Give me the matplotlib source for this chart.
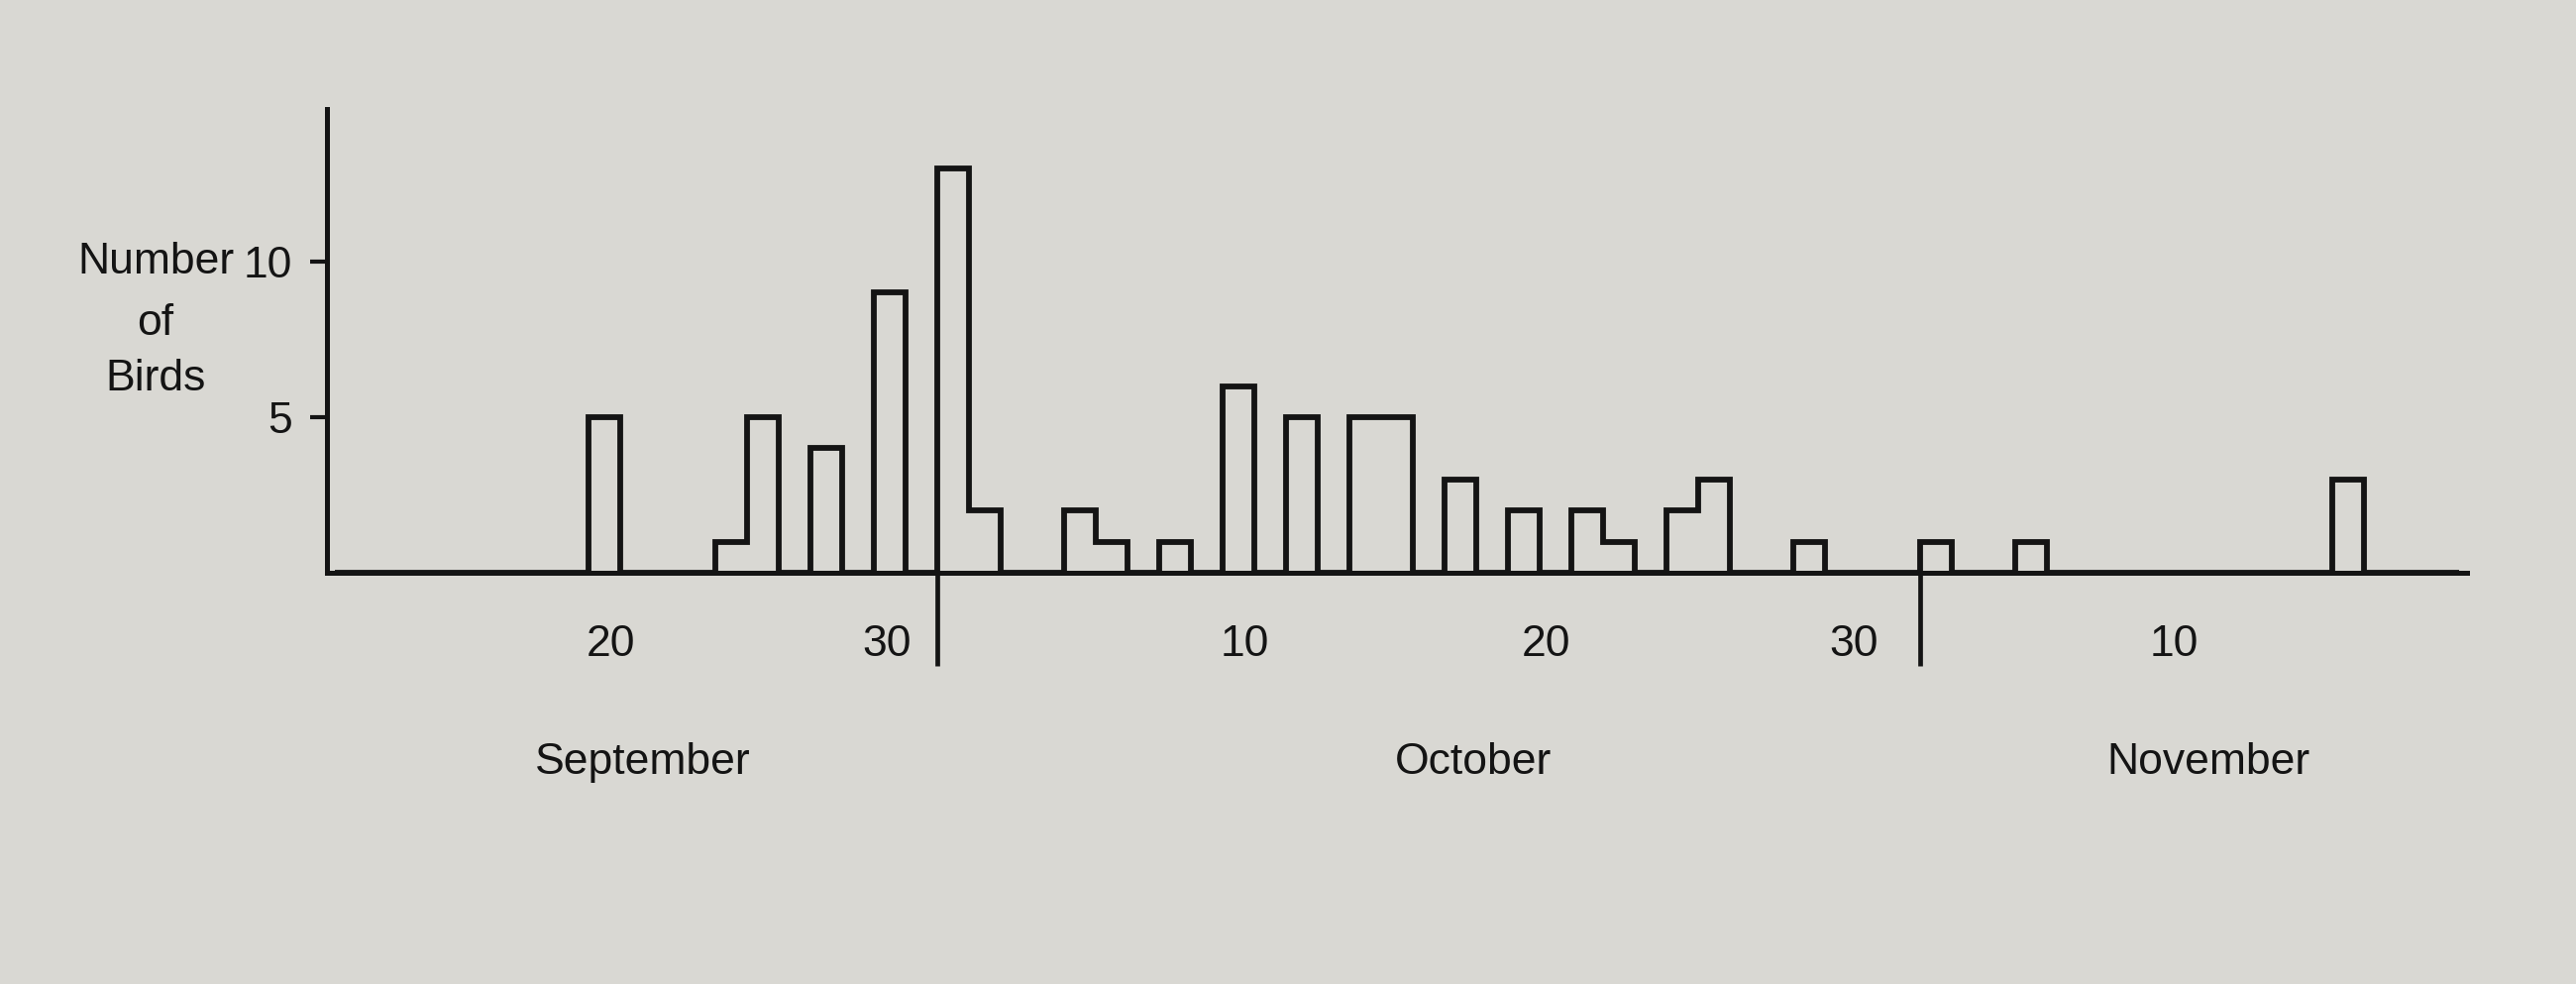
import numpy as np
import matplotlib
matplotlib.use("Agg")
import matplotlib.pyplot as plt

# birds counted per day (day of month, count)
sep_days = [20, 24, 25, 27, 29]
sep_birds = [5, 1, 5, 4, 9]
oct_days = [1, 2, 5, 6, 8, 10, 12, 14, 15, 17, 19, 21, 22, 24, 25, 28]
oct_birds = [13, 2, 2, 1, 1, 6, 5, 5, 5, 3, 2, 2, 1, 2, 3, 1]
nov_days = [1, 4, 14]
nov_birds = [1, 1, 3]

months = ["September", "October", "November"]
month_start = [1, 31, 62]  # day index of the 1st of each month (Sept 1 = 1)

day_labels = ["20", "30", "10", "20", "30", "10"]
day_label_pos = [20.2, 28.9, 40.2, 49.7, 59.4, 69.5]
month_label_pos = [21.2, 47.4, 70.6]

y_ticks = [5, 10]

# daily series over the season
first_day, last_day = 12, 78
days = np.arange(first_day, last_day + 1)
counts = np.zeros(len(days))
for start, dd, bb in zip(month_start, [sep_days, oct_days, nov_days], [sep_birds, oct_birds, nov_birds]):
    for d, b in zip(dd, bb):
        counts[start - 1 + d - first_day] = b
edges = np.arange(first_day - 0.5, last_day + 1.5)

paper = "#d9d8d3"
ink = "#141414"
plt.rcParams['font.family'] = ['Liberation Sans', 'DejaVu Sans']

fig = plt.figure(figsize=(26, 9.93), dpi=100, facecolor=paper)
W, H = 2600, 993
ax = fig.add_axes([330 / W, 1 - 578 / H, (2490 - 330) / W, (578 - 110) / H])
ax.set_facecolor(paper)

ax.stairs(counts, edges, baseline=0, fill=False, color=ink, linewidth=4.2, joinstyle='miter')

# month boundaries run below the axis
for s in month_start[1:]:
    ax.plot([s - 0.5, s - 0.5], [0, -3.0], color=ink, linewidth=3.4, clip_on=False, solid_capstyle='butt')

ax.set_xlim(11.25, 78.75)
ax.set_ylim(0, 14.9)

for side in ['top', 'right']:
    ax.spines[side].set_visible(False)
for side in ['left', 'bottom']:
    ax.spines[side].set_color(ink)
    ax.spines[side].set_linewidth(3.6)

ax.set_xticks([])
ax.set_yticks(y_ticks)
ax.set_yticklabels([str(t) for t in y_ticks])
ax.tick_params(axis='y', length=12, width=3, color=ink, pad=13, labelsize=32, labelcolor=ink)

for lab, x in zip(day_labels, day_label_pos):
    ax.text(x, -2.3, lab, ha='center', va='center', fontsize=32, color=ink, clip_on=False)

for lab, x in zip(months, month_label_pos):
    ax.text(x, -6.1, lab, ha='center', va='center', fontsize=32, color=ink, clip_on=False)

for lab, y in zip(["Number", "of", "Birds"], [265, 326, 382]):
    fig.text(157 / W, 1 - y / H, lab, ha='center', va='center', fontsize=32, color=ink)

fig.savefig("out.png", dpi=100, facecolor=paper)
